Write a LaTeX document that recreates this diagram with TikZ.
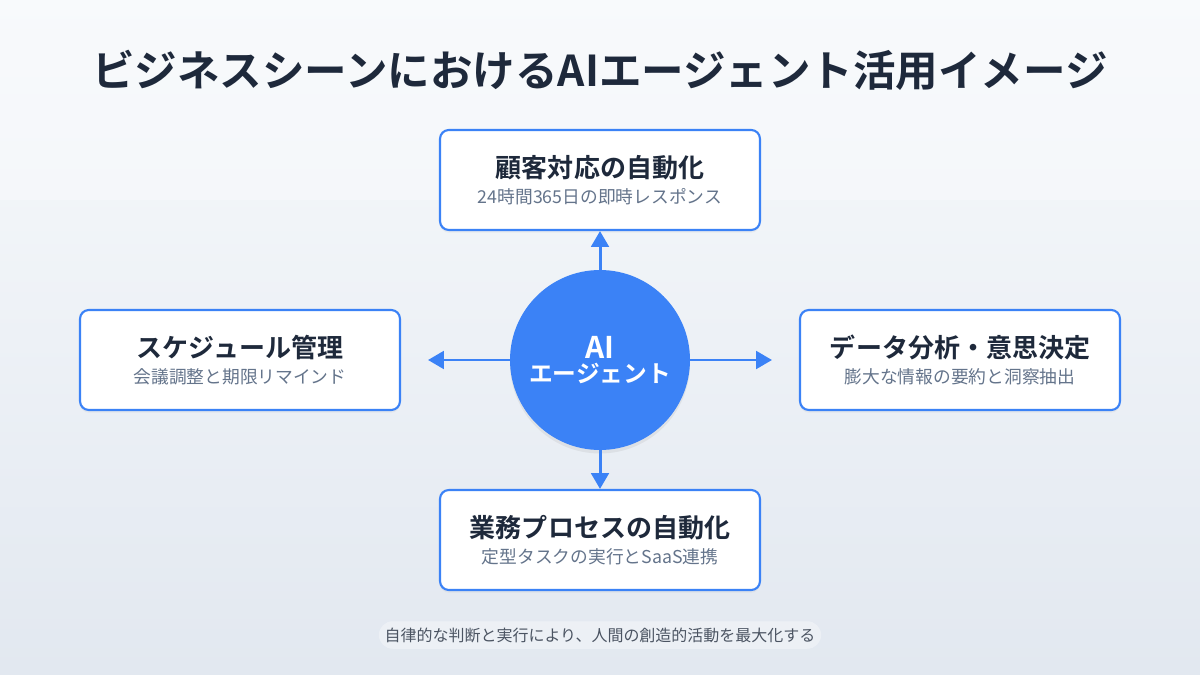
\documentclass[tikz,border=0pt]{standalone}
\usepackage{fontspec}
\setmainfont{Noto Sans CJK JP}
\newfontfamily\jpb{Noto Sans CJK JP Bold}
\usetikzlibrary{arrows.meta,shadows}
\definecolor{bl}{HTML}{3B82F6}
\definecolor{dk}{HTML}{1E293B}
\definecolor{gy}{HTML}{64748B}
\definecolor{bgA}{HTML}{F8FAFC}
\definecolor{bgB}{HTML}{E2E8F0}
\tikzset{
 card/.style={draw=bl,line width=1.2pt,fill=white,rounded corners=5pt,minimum width=6.4cm,minimum height=2cm,align=center,inner sep=0pt,
   drop shadow={shadow xshift=0pt,shadow yshift=-1.5pt,opacity=0.08}},
 arr/.style={draw=bl,line width=1.7pt,-{Triangle[length=9pt,width=10pt]}}
}
\newcommand{\cardtext}[2]{{\jpb\fontsize{14.8}{17}\selectfont\color{dk}#1}\\[3pt]{\fontsize{10.1}{12}\selectfont\color{gy}#2}}
\begin{document}
\begin{tikzpicture}[x=0.02cm,y=-0.02cm]
\useasboundingbox (0,0) rectangle (1200,675);
\shade[left color=bgA,right color=bgB,shading angle=0] (0,0) rectangle (1200,675);
\fill[bgA,opacity=0.5] (0,0) rectangle (1200,200);
\node[font=\jpb\fontsize{24.2}{29}\selectfont,text=dk] (title) at (600,70) {ビジネスシーンにおけるAIエージェント活用イメージ};
\node[circle,fill=bl,minimum size=3.6cm,inner sep=0pt,align=center,text=white,
  drop shadow={shadow xshift=0pt,shadow yshift=-2pt,opacity=0.12}] (ai) at (600,360)
  {{\jpb\fontsize{17}{20}\selectfont AI}\\[2pt]{\jpb\fontsize{13.5}{16}\selectfont エージェント}};
\node[card] (top) at (600,180) {\cardtext{顧客対応の自動化}{24時間365日の即時レスポンス}};
\node[card] (left) at (240,360) {\cardtext{スケジュール管理}{会議調整と期限リマインド}};
\node[card] (right) at (960,360) {\cardtext{データ分析・意思決定}{膨大な情報の要約と洞察抽出}};
\node[card] (bot) at (600,540) {\cardtext{業務プロセスの自動化}{定型タスクの実行とSaaS連携}};
\coordinate (lt) at (428,360);
\coordinate (rt) at (772,360);
\draw[arr] (ai.north) -- (top.south);
\draw[arr] (ai.south) -- (bot.north);
\draw[arr] (ai.west) -- (lt);
\draw[arr] (ai.east) -- (rt);
\node[fill=white,fill opacity=0.35,text opacity=1,rounded corners=8pt,minimum width=8.6cm,minimum height=0.55cm,
  font=\fontsize{9.1}{11}\selectfont,text=dk!80] (foot) at (600,635) {自律的な判断と実行により、人間の創造的活動を最大化する};
\end{tikzpicture}
\end{document}
